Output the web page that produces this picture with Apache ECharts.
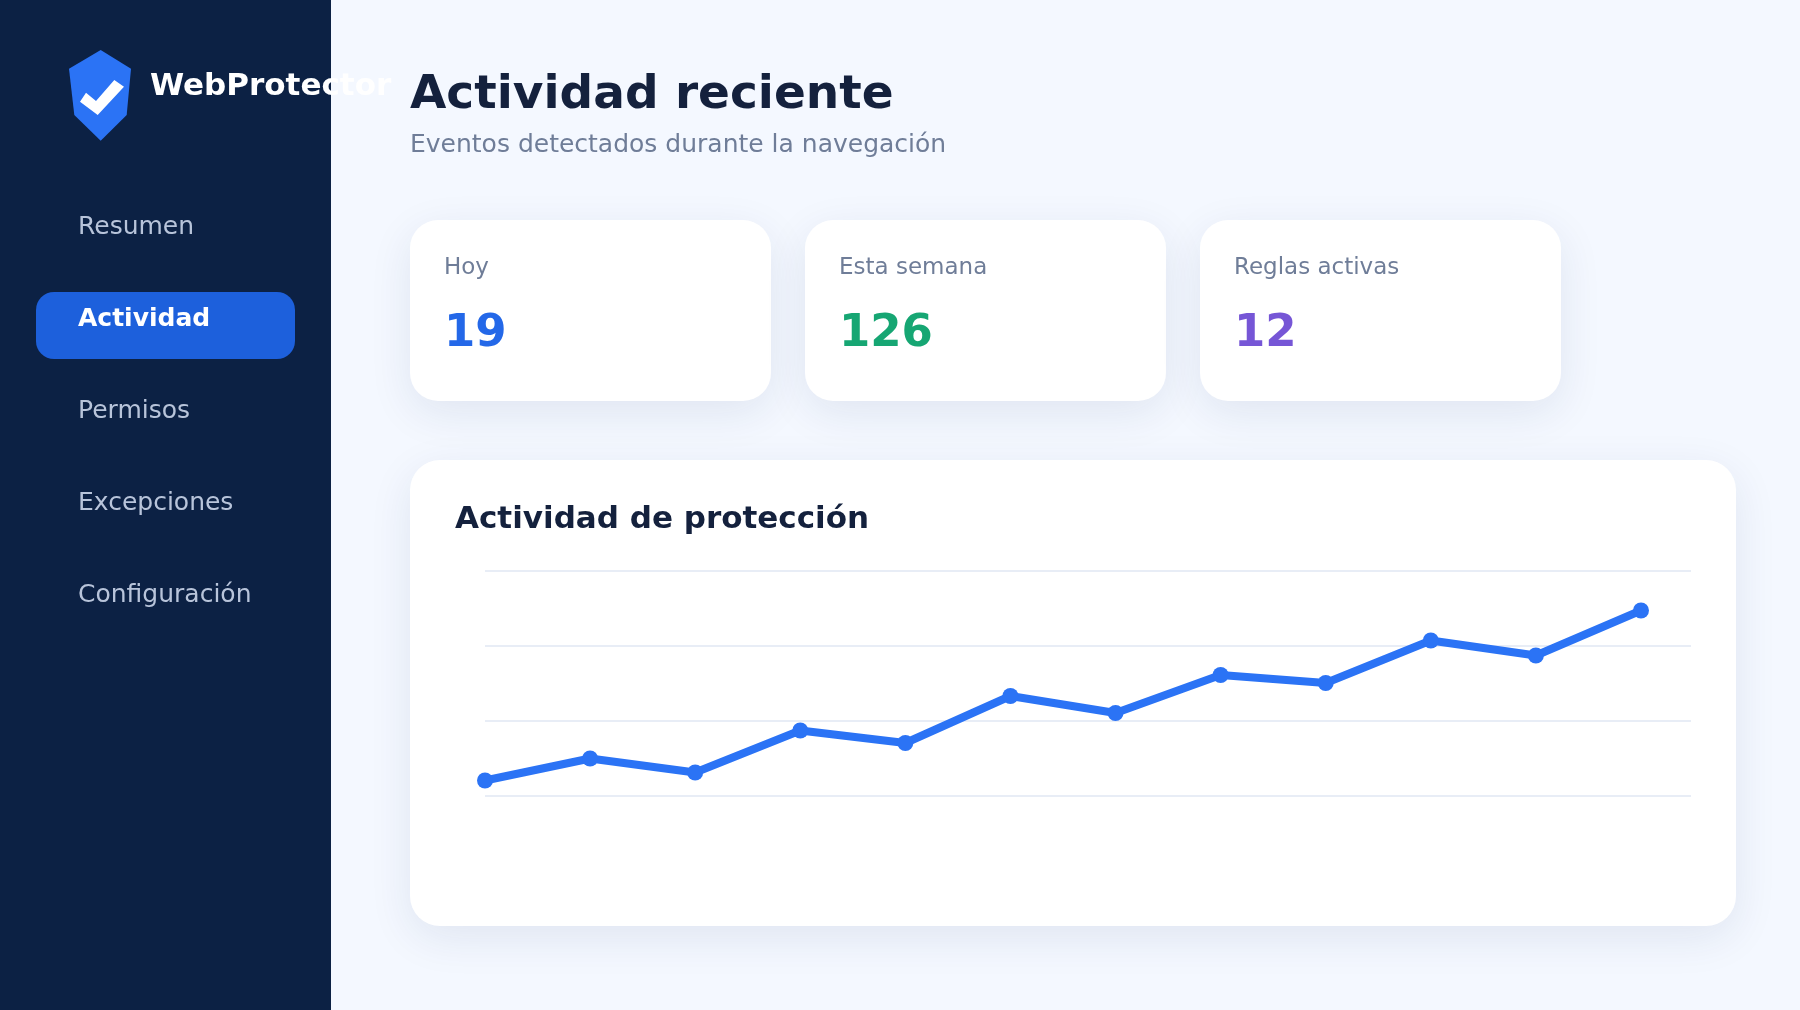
<!DOCTYPE html>
<html><head><meta charset="utf-8">
<style>html,body{margin:0;padding:0;background:#f4f8ff;}#c{width:1800px;height:1010px;}</style>
<script src="https://cdn.jsdelivr.net/npm/echarts@6/dist/echarts.min.js"></script>
</head><body><div id="c"></div>
<script>
const days = [1,2,3,4,5,6,7,8,9,10,11,12];
const activity = [6.2,15,9.4,26.2,21.2,40,33.2,48.4,45.2,62.2,56.2,74.2];
const navItems = ['Resumen','Actividad','Permisos','Excepciones','Configuración'];
const navY = [227,319,411,503,595];
const statLabels = ['Hoy','Esta semana','Reglas activas'];
const statValues = ['19','126','12'];
const statColors = ['#2468e8','#16a673','#7656d6'];
const statX = [410,805,1200];
const F = '"DejaVu Sans"';
const txt = (x,y,text,size,color,weight) => ({type:'text',silent:true,x,y,style:{text,fill:color,font:`${weight||'normal'} ${size}px ${F}`,textVerticalAlign:'middle',textBaseline:'middle'}});
const shadowRect = (x,y,w,h,r) => ({type:'rect',silent:true,shape:{x,y,width:w,height:h,r},style:{fill:'#fff',shadowBlur:44,shadowOffsetY:12,shadowColor:'rgba(24,48,104,0.09)'}});
const g = [];
g.push({type:'rect',silent:true,shape:{x:0,y:0,width:1800,height:1010},style:{fill:'#f4f8ff'}});
g.push({type:'rect',silent:true,shape:{x:0,y:0,width:331,height:1010},style:{fill:'#0c2144'}});
g.push({type:'polygon',silent:true,shape:{points:[[100.7,50],[131,68.7],[126.7,115],[100.7,140.7],[74.3,115],[69,68.7]]},style:{fill:'#2b73f5'}});
g.push({type:'polygon',silent:true,shape:{points:[[80,101.7],[86,92.7],[96,101],[114.3,80],[124,86.7],[97.7,115]]},style:{fill:'#fff'}});
g.push({type:'rect',silent:true,shape:{x:36,y:292,width:259,height:67,r:18},style:{fill:'#1d60dc'}});
navItems.forEach((t,i)=>g.push(txt(78,navY[i],t,25,i===1?'#ffffff':'#b8c4da',i===1?'bold':'normal')));
statX.forEach((x,i)=>{
  g.push(shadowRect(x,220,361,181,28));
  g.push(txt(x+34,268,statLabels[i],23,'#6f7d98'));
  g.push(txt(x+34,334,statValues[i],45,statColors[i],'bold'));
});
g.push(shadowRect(410,460,1326,466,30));
g.push(txt(410,96,'Actividad reciente',47,'#14213d','bold'));
g.push(txt(410,145,'Eventos detectados durante la navegación',25,'#6f7d98'));
g.push(txt(455,520,'Actividad de protección',31,'#14213d','bold'));
g.push(txt(150,87,'WebProtector',31,'#ffffff','bold'));
const chart = echarts.init(document.getElementById('c'),null,{width:1800,height:1010});
chart.setOption({
  animation:false,
  graphic:{elements:g.map(e=>Object.assign({z:-1},e))},
  grid:{left:485,top:571,width:1206,height:225,containLabel:false},
  xAxis:{type:'value',min:1,max:12.476,show:false,splitLine:{show:false}},
  yAxis:{type:'value',min:0,max:90,interval:30,axisLine:{show:false},axisTick:{show:false},axisLabel:{show:false},
    splitLine:{show:true,lineStyle:{color:'#e8edf6',width:2}}},
  series:[{type:'line',data:days.map((d,i)=>[d,activity[i]]),lineStyle:{color:'#2b73f5',width:8},itemStyle:{color:'#2b73f5'},symbol:'circle',symbolSize:16,showSymbol:true,z:5}]
});
</script></body></html>
